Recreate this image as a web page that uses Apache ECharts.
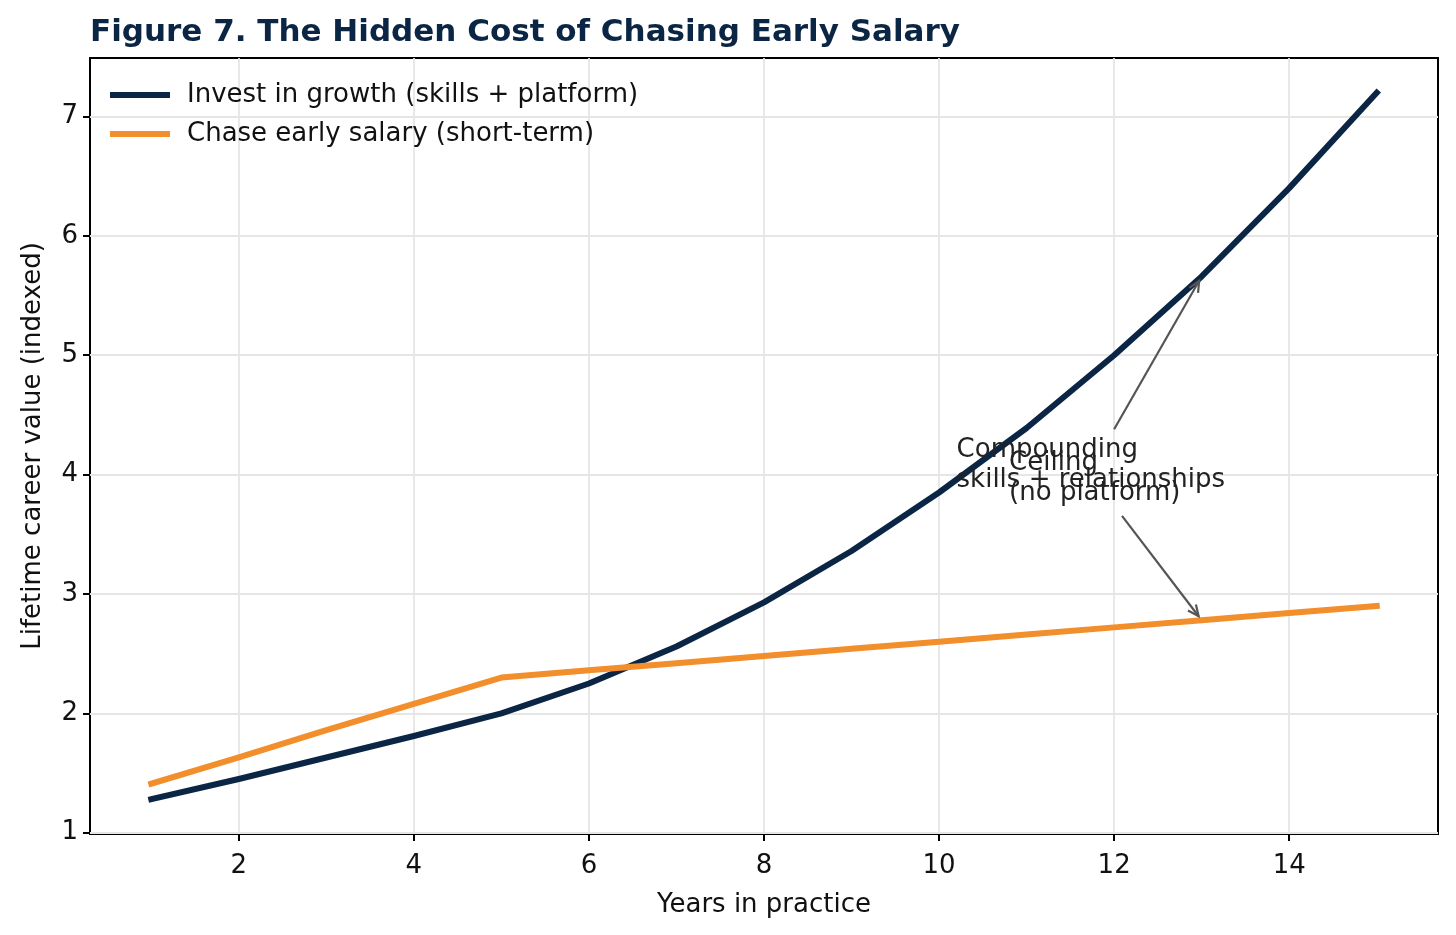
<!DOCTYPE html>
<html>
<head>
<meta charset="utf-8">
<script src="https://cdn.jsdelivr.net/npm/echarts@6/dist/echarts.min.js"></script>
<style>
html,body{margin:0;padding:0;background:#fff;}
#chart{width:1456px;height:935px;}
</style>
</head>
<body>
<div id="chart"></div>
<script>
const years = [1,2,3,4,5,6,7,8,9,10,11,12,13,14,15];
const growth = [1.28,1.45,1.63,1.81,2.00,2.25,2.56,2.93,3.36,3.85,4.39,5.00,5.66,6.40,7.20];
const salary = [1.41,1.63,1.86,2.08,2.30,2.36,2.42,2.48,2.54,2.60,2.66,2.72,2.78,2.84,2.90];
const xTicks = [2,4,6,8,10,12,14];
const yTicks = [1,2,3,4,5,6,7];
const seriesNames = ['Invest in growth (skills + platform)', 'Chase early salary (short-term)'];
const annoTexts = [
  {text: 'Compounding\nskills + relationships', x: 10.2, y: 4.077},
  {text: 'Ceiling\n(no platform)', x: 10.8, y: 3.973}
];
const annoArrows = [
  [12.0, 4.38, 13, 5.66],
  [12.09, 3.654, 13, 2.78]
];

const NAVY = '#0B2545';
const ORANGE = '#F28E2B';
const FONT = 'DejaVu Sans';

const chart = echarts.init(document.getElementById('chart'), null, {renderer: 'canvas'});

function pairs(xs, ys){ return xs.map((x,i)=>[x, ys[i]]); }

const option = {
  animation: false,
  backgroundColor: '#fff',
  title: {
    text: 'Figure 7. The Hidden Cost of Chasing Early Salary',
    left: 85, top: 12,
    textStyle: {fontFamily: FONT, fontSize: 31, fontWeight: 'bold', color: NAVY}
  },
  legend: {
    data: seriesNames,
    orient: 'vertical',
    left: 110, top: 80, padding: 0,
    itemWidth: 60, itemHeight: 6, itemGap: 9,
    icon: 'rect',
    textStyle: {fontFamily: FONT, fontSize: 26, color: '#111', lineHeight: 30, padding: [0,0,0,12]}
  },
  grid: {
    left: 90, right: 18, top: 58, bottom: 101,
    show: true, borderColor: '#000', borderWidth: 2, backgroundColor: 'transparent'
  },
  xAxis: {
    type: 'value', min: 0.3, max: 15.7,
    name: 'Years in practice', nameLocation: 'middle', nameGap: 58,
    nameTextStyle: {fontFamily: FONT, fontSize: 26, color: '#111'},
    axisLine: {show: false},
    axisTick: {show: true, inside: false, length: 7, lineStyle: {color: '#000', width: 2}, customValues: xTicks},
    axisLabel: {fontFamily: FONT, fontSize: 26, color: '#111', margin: 19, customValues: xTicks},
    splitLine: {show: true, lineStyle: {color: '#e6e6e6', width: 1.8}}
  },
  yAxis: {
    type: 'value', min: 0.989, max: 7.49,
    name: 'Lifetime career value (indexed)', nameLocation: 'middle', nameGap: 44,
    nameTextStyle: {fontFamily: FONT, fontSize: 26, color: '#111'},
    axisLine: {show: false},
    axisTick: {show: true, inside: false, length: 7, lineStyle: {color: '#000', width: 2}, customValues: yTicks},
    axisLabel: {fontFamily: FONT, fontSize: 26, color: '#111', margin: 12, customValues: yTicks},
    splitLine: {show: true, lineStyle: {color: '#e6e6e6', width: 1.8}}
  },
  series: [
    {
      name: seriesNames[0], type: 'line', data: pairs(years, growth),
      showSymbol: false, symbol: 'none', color: NAVY,
      lineStyle: {color: NAVY, width: 6, cap: 'square', join: 'round'},
      z: 3
    },
    {
      name: seriesNames[1], type: 'line', data: pairs(years, salary),
      showSymbol: false, symbol: 'none', color: ORANGE,
      lineStyle: {color: ORANGE, width: 6, cap: 'square', join: 'round'},
      z: 4
    },
    {
      name: 'arrows', type: 'custom', data: annoArrows, z: 5, silent: true,
      encode: {x: [0,2], y: [1,3]},
      renderItem: function(params, api){
        const p1 = api.coord([api.value(0), api.value(1)]);
        const p2raw = api.coord([api.value(2), api.value(3)]);
        const dx = p2raw[0]-p1[0], dy = p2raw[1]-p1[1];
        const L = Math.sqrt(dx*dx+dy*dy);
        const ux = dx/L, uy = dy/L;
        const p2 = [p2raw[0]-ux*5, p2raw[1]-uy*5];
        const hl = 11, hw = 5;
        const bx = p2[0]-ux*hl, by = p2[1]-uy*hl;
        const nx = -uy, ny = ux;
        return {
          type: 'group',
          children: [
            {type: 'polyline', shape: {points: [p1, p2]}, style: {stroke: '#555', lineWidth: 2.2, fill: null}},
            {type: 'polyline', shape: {points: [[bx+nx*hw, by+ny*hw], p2, [bx-nx*hw, by-ny*hw]]}, style: {stroke: '#555', lineWidth: 2.2, fill: null}}
          ]
        };
      }
    },
    {
      name: 'notes', type: 'custom', data: annoTexts.map(a=>[a.x, a.y]), z: 6, silent: true,
      encode: {x: 0, y: 1},
      renderItem: function(params, api){
        const p = api.coord([api.value(0), api.value(1)]);
        return {
          type: 'text', x: p[0], y: p[1],
          style: {
            text: annoTexts[params.dataIndex].text,
            font: '26px "DejaVu Sans"', fill: '#222',
            align: 'left', verticalAlign: 'middle', lineHeight: 30
          }
        };
      }
    }
  ]
};
chart.setOption(option);
</script>
</body>
</html>
